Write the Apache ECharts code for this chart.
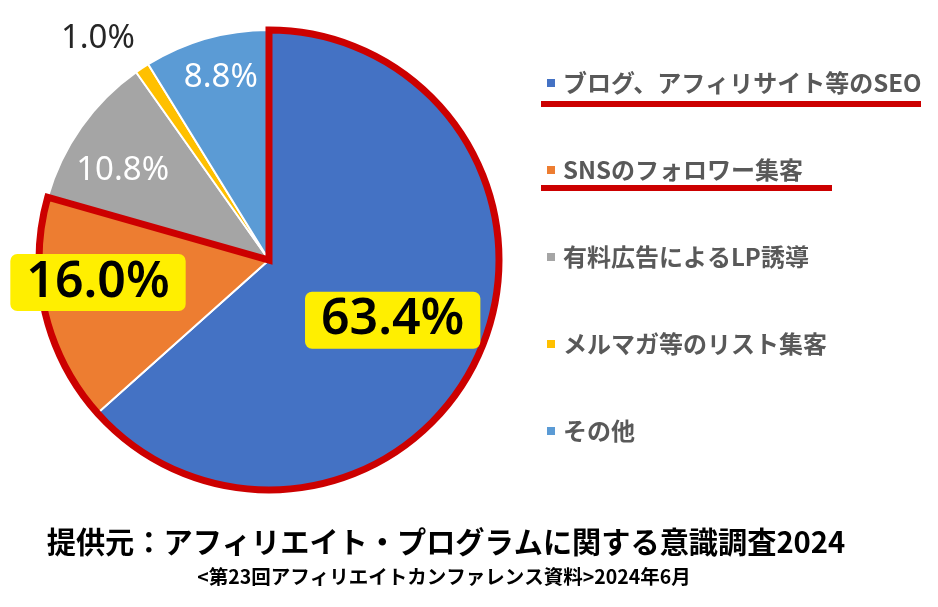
<!DOCTYPE html>
<html>
<head>
<meta charset="utf-8">
<script src="https://cdn.jsdelivr.net/npm/echarts@6/dist/echarts.min.js"></script>
<style>
html, body { margin: 0; padding: 0; background: #fff; }
#chart { width: 938px; height: 607px; }
</style>
</head>
<body>
<div id="chart"></div>
<script>
// 集客方法の割合
const categories = ['ブログ、アフィリサイト等のSEO', 'SNSのフォロワー集客', '有料広告によるLP誘導', 'メルマガ等のリスト集客', 'その他'];
const shares = [63.4, 16.0, 10.8, 1.0, 8.8];
const sliceColors = ['#4472C4', '#ED7D31', '#A5A5A5', '#FFC000', '#5B9BD5'];
const framedCount = 2; // 先頭2項目を赤枠で囲む
const sourceTitle = '提供元：アフィリエイト・プログラムに関する意識調査2024';
const sourceNote = '<第23回アフィリエイトカンファレンス資料>2024年6月';

const RED = '#CC0000';
const pieCenter = [269, 260];
const pieRadius = 230;
// ラベル位置の微調整 (inside からのずれ)
const labelShift = [[16, 12], [-56, -4], [-50, -21], [-106, -123], [-16, -69]];

const bigLabel = {
    color: '#000', fontSize: 50, fontWeight: 600, fontFamily: 'Noto Sans', lineHeight: 52,
    backgroundColor: '#FFEF00', borderRadius: 7, padding: [3, 16, 2, 16]
};
const labelStyles = [
    bigLabel,
    bigLabel,
    { color: '#fff', fontSize: 33, fontFamily: 'Noto Sans' },
    { color: '#262626', fontSize: 33, fontFamily: 'Noto Sans' },
    { color: '#fff', fontSize: 33, fontFamily: 'Noto Sans' }
];

const framedSum = shares.slice(0, framedCount).reduce((a, b) => a + b, 0);
const restSum = shares.slice(framedCount).reduce((a, b) => a + b, 0);

let option = {
    backgroundColor: '#fff',
    legend: {
        data: categories,
        orient: 'vertical',
        left: 545,
        top: 71,
        padding: 0,
        itemGap: 63,
        icon: 'rect',
        itemWidth: 10,
        itemHeight: 10,
        selectedMode: false,
        textStyle: {
            color: '#595959',
            fontSize: 24,
            fontWeight: 'bold',
            fontFamily: 'Noto Sans CJK JP',
            padding: [0, 0, 0, 2]
        }
    },
    series: [
        {
            // 扇形本体
            type: 'pie',
            z: 2,
            center: pieCenter,
            radius: pieRadius,
            startAngle: 90,
            silent: true,
            label: { show: false },
            labelLine: { show: false },
            itemStyle: { borderColor: '#fff', borderWidth: 2 },
            data: categories.map((name, i) => ({
                name: name,
                value: shares[i],
                itemStyle: { color: sliceColors[i] }
            }))
        },
        {
            // 赤枠
            type: 'pie',
            z: 3,
            center: pieCenter,
            radius: pieRadius,
            startAngle: 90,
            silent: true,
            label: { show: false },
            labelLine: { show: false },
            data: [
                { name: 'frame', value: framedSum, itemStyle: { color: 'transparent', borderColor: RED, borderWidth: 7, borderJoin: 'miter' } },
                { name: 'rest', value: restSum, itemStyle: { color: 'transparent', borderWidth: 0 } }
            ]
        },
        {
            // ラベル (赤枠より前面)
            type: 'pie',
            z: 4,
            center: pieCenter,
            radius: pieRadius,
            startAngle: 90,
            silent: true,
            labelLine: { show: false },
            itemStyle: { color: 'transparent', borderWidth: 0 },
            label: {
                show: true,
                position: 'inside',
                formatter: p => p.value.toFixed(1) + '%'
            },
            labelLayout: function (params) {
                const s = labelShift[params.dataIndex] || [0, 0];
                return { dx: s[0], dy: s[1] };
            },
            data: categories.map((name, i) => ({
                name: name,
                value: shares[i],
                itemStyle: { color: 'transparent' },
                label: labelStyles[i]
            }))
        }
    ],
    graphic: [
        { type: 'rect', shape: { x: 541, y: 101, width: 380, height: 6 }, style: { fill: RED } },
        { type: 'rect', shape: { x: 541, y: 185, width: 291, height: 6 }, style: { fill: RED } },
        {
            type: 'text', x: 446, y: 542,
            style: { text: sourceTitle, fill: '#000', fontSize: 29.2, fontWeight: 'bold', fontFamily: 'Noto Sans CJK JP', align: 'center', verticalAlign: 'middle' }
        },
        {
            type: 'text', x: 444, y: 577,
            style: { text: sourceNote, fill: '#000', fontSize: 19.5, fontWeight: 'bold', fontFamily: 'Noto Sans CJK JP', align: 'center', verticalAlign: 'middle' }
        }
    ]
};

let chart = echarts.init(document.getElementById('chart'));
chart.setOption(option);
window.addEventListener('resize', function () {
    chart.resize();
});
</script>
</body>
</html>
